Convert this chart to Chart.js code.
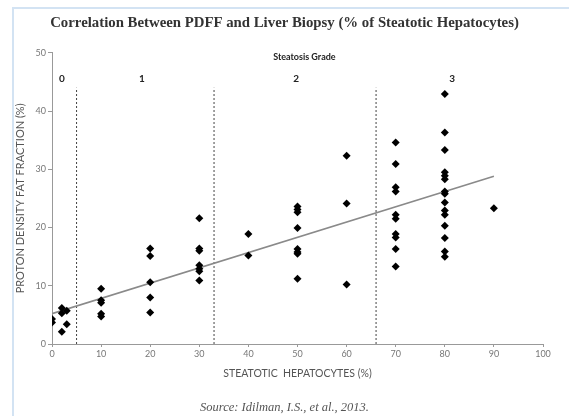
<!DOCTYPE html>
<html>
<head>
  <title>PDFF vs Liver Biopsy</title>
  <script src="https://cdn.jsdelivr.net/npm/chart.js@4.4.1/dist/chart.umd.min.js"></script>
  <style>
    html, body { margin: 0; padding: 0; background: #fff; }
    .frame {
      position: absolute; left: 12px; top: 7px; width: 600px; height: 460px;
      border-left: 2px solid #d3e3f3; border-top: 2px solid #d3e3f3;
    }
    .wrap { position: absolute; left: 0; top: 0; width: 569px; height: 416px; }
  </style>
</head>
<body>
  <div class="frame"></div>
  <div class="wrap"><canvas id="chart" width="569" height="416"></canvas></div>
  <script>
    // biopsy % (x) and PDFF % (y)
    const hepatocytes = [
      0, 0, 2, 2, 3, 3, 2,
      10, 10, 10, 10, 10,
      20, 20, 20, 20, 20,
      30, 30, 30, 30, 30, 30, 30,
      40, 40,
      50, 50, 50, 50, 50, 50, 50, 50,
      60, 60, 60,
      70, 70, 70, 70, 70, 70, 70, 70, 70, 70,
      80, 80, 80, 80, 80, 80, 80, 80, 80, 80, 80, 80, 80, 80, 80,
      90
    ];
    const pdff = [
      4.3, 3.7, 6.2, 5.3, 5.7, 3.4, 2.1,
      9.5, 7.5, 7.1, 5.2, 4.7,
      16.4, 15.1, 10.6, 8.0, 5.4,
      21.6, 16.4, 16.0, 13.5, 12.9, 12.5, 10.9,
      18.9, 15.2,
      23.6, 23.1, 22.6, 19.9, 16.3, 15.8, 15.5, 11.2,
      32.3, 24.1, 10.2,
      34.6, 30.9, 26.9, 26.2, 22.2, 21.5, 18.9, 18.3, 16.3, 13.3,
      42.9, 36.3, 33.3, 29.5, 28.9, 28.3, 26.2, 25.8, 24.3, 22.9, 22.2, 20.3, 18.2, 15.9, 15.0,
      23.3
    ];
    // fitted line end points
    const fitX = [0, 90];
    const fitY = [5.2, 28.8];
    // grade boundaries
    const gradeBounds = [5, 33, 66];
    const gradeTop = 44;
    const gradeNames = ['0', '1', '2', '3'];
    const gradeNameX = [2, 18.3, 49.7, 81.5];
    const gradeNameY = 45.5;
    const gradeHeading = 'Steatosis Grade';
    const gradeHeadingPos = [51.4, 49.2];

    const points = hepatocytes.map((x, i) => ({ x: x, y: pdff[i] }));
    const fit = fitX.map((x, i) => ({ x: x, y: fitY[i] }));
    const boundSets = gradeBounds.map(b => ({
      data: [{ x: b, y: 0 }, { x: b, y: gradeTop }],
      showLine: true, borderColor: '#444', borderWidth: 1, borderDash: [2, 2],
      pointRadius: 0, order: 3
    }));

    const gradeText = {
      id: 'gradeText',
      afterDatasetsDraw(chart) {
        const { ctx, scales: { x, y } } = chart;
        ctx.save();
        ctx.fillStyle = '#222';
        ctx.textAlign = 'center';
        ctx.textBaseline = 'middle';
        ctx.font = 'bold 9px Lato';
        ctx.fillText(gradeHeading, x.getPixelForValue(gradeHeadingPos[0]), y.getPixelForValue(gradeHeadingPos[1]));
        ctx.font = 'bold 10px Lato';
        gradeNames.forEach((g, i) => {
          ctx.fillText(g, x.getPixelForValue(gradeNameX[i]), y.getPixelForValue(gradeNameY));
        });
        ctx.restore();
      }
    };

    new Chart(document.getElementById('chart').getContext('2d'), {
      type: 'scatter',
      data: {
        datasets: [
          { data: points, pointStyle: 'rectRot', pointRadius: 4, backgroundColor: '#000', borderColor: '#000', borderWidth: 0, order: 1 },
          { data: fit, showLine: true, borderColor: '#8a8a8a', borderWidth: 1.6, pointRadius: 0, order: 2 },
          ...boundSets
        ]
      },
      options: {
        responsive: false,
        animation: false,
        layout: { padding: 0 },
        plugins: {
          legend: { display: false },
          tooltip: { enabled: false },
          title: {
            display: true,
            text: 'Correlation Between PDFF and Liver Biopsy (% of Steatotic Hepatocytes)',
            color: '#333',
            font: { family: 'Liberation Serif', size: 14.8, weight: 'bold', lineHeight: 1.2 },
            padding: { top: 14, bottom: 21 }
          },
          subtitle: {
            display: true,
            position: 'bottom',
            text: 'Source: Idilman, I.S., et al., 2013.',
            color: '#555',
            font: { family: 'Liberation Serif', size: 12.5, style: 'italic', lineHeight: 1.2 },
            padding: { top: 12, bottom: 1 }
          }
        },
        scales: {
          x: {
            min: 0, max: 100,
            afterFit(s) { s.height = 44; },
            ticks: { stepSize: 10, color: '#777', font: { family: 'Lato', size: 9 }, padding: 2 },
            grid: { drawOnChartArea: false, drawTicks: true, tickLength: 3, color: '#999' },
            border: { color: '#999', width: 1 },
            title: {
              display: true, text: 'STEATOTIC  HEPATOCYTES (%)', color: '#555',
              font: { family: 'Lato', size: 10.5, lineHeight: 1.2 }, padding: { top: 0, bottom: 8 }
            }
          },
          y: {
            min: 0, max: 50,
            afterFit(s) { s.width = 52; },
            ticks: { stepSize: 10, color: '#777', font: { family: 'Lato', size: 9 }, padding: 2 },
            grid: { drawOnChartArea: false, drawTicks: true, tickLength: 4, color: '#999' },
            border: { color: '#999', width: 1 },
            title: {
              display: true, text: 'PROTON DENSITY FAT FRACTION (%)', color: '#555',
              font: { family: 'Lato', size: 11, lineHeight: 1.2 }, padding: { top: 13.5, bottom: 0 }
            }
          },
          // empty right margin so the titles centre on the full page
          y2: {
            position: 'right',
            min: 0, max: 50,
            afterFit(s) { s.width = 26; },
            ticks: { display: false },
            grid: { display: false, drawTicks: false },
            border: { display: false }
          }
        }
      },
      plugins: [gradeText]
    });
  </script>
</body>
</html>
